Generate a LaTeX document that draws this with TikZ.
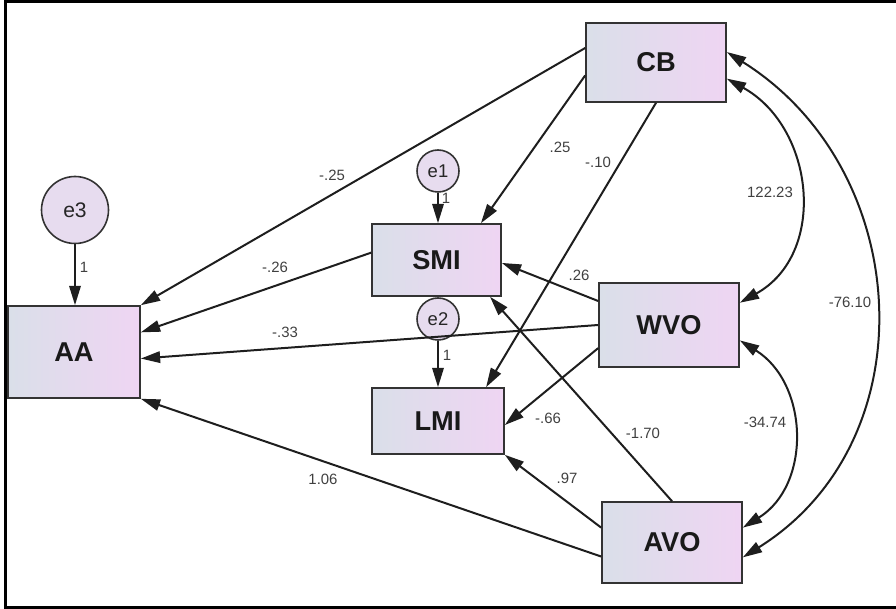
\documentclass[tikz,border=0pt]{standalone}
\usepackage{fontspec}
\setmainfont{Liberation Sans}
\usetikzlibrary{arrows.meta,calc}

\definecolor{boxleft}{HTML}{DADFE9}
\definecolor{boxright}{HTML}{EFD5F3}
\definecolor{errfill}{HTML}{E7DCEF}
\definecolor{edge}{HTML}{1E1E1E}

\def\px{0.2mm}

\tikzset{
    var/.style={draw=black!80, line width=1.6*\px, left color=boxleft, right color=boxright,
        font=\fontsize{15.5}{17}\selectfont\bfseries, text=black!90},
    err/.style={circle, draw=black!80, line width=1.6*\px, fill=errfill, inner sep=0pt,
        font=\fontsize{10.5}{12}\selectfont, text=black!85},
    path/.style={draw=edge, line width=2*\px, -{Triangle[length=11pt,width=6.5pt]}},
    cov/.style={draw=edge, line width=2*\px, {Triangle[length=11pt,width=6.5pt]}-{Triangle[length=11pt,width=6.5pt]}},
    lbl/.style={font=\fontsize{8.5}{10}\selectfont, text=black!75, inner sep=1pt}
}

\begin{document}
\begin{tikzpicture}[x=0.2mm, y=-0.2mm]

    \useasboundingbox (0,0) rectangle (896,609);

    % Frame
    \draw[line width=3*\px] (896,1.5) -- (5.5,1.5) -- (5.5,607) -- (896,607);

    % Observed variables
    \node[var, minimum width=132*\px, minimum height=92*\px] (AA)  at (74,352)    {AA};
    \node[var, minimum width=129*\px, minimum height=72*\px] (SMI) at (436.5,260) {SMI};
    \node[var, minimum width=132*\px, minimum height=66*\px] (LMI) at (438,421)   {LMI};
    \node[var, minimum width=140*\px, minimum height=79*\px] (CB)  at (656,62.5)  {CB};
    \node[var, minimum width=140*\px, minimum height=84*\px] (WVO) at (669,325)   {WVO};
    \node[var, minimum width=140*\px, minimum height=81*\px] (AVO) at (672,542.5) {AVO};

    % Error terms
    \node[err, minimum size=67*\px, font=\fontsize{12}{13}\selectfont] (e3) at (75,210) {e3};
    \node[err, minimum size=42*\px] (e1) at (438,171) {e1};
    \node[err, minimum size=42*\px] (e2) at (438,319) {e2};

    \draw[path] (e3.south) -- (e3.south |- AA.north);
    \draw[path] (e1.south) -- (e1.south |- SMI.north);
    \draw[path] (e2.south) -- (e2.south |- LMI.north);
    \node[lbl] (w3) at (84,267) {1};
    \node[lbl] (w1) at (446,198) {1};
    \node[lbl] (w2) at (447,355) {1};

    % Paths into AA
    \draw[path] ($(CB.north west)!.32!(CB.south west)$) -- (AA.north east);
    \draw[path] ($(SMI.north west)!.40!(SMI.south west)$) -- ($(AA.north east)!.29!(AA.south east)$);
    \draw[path] (WVO.west) -- ($(AA.north east)!.57!(AA.south east)$);
    \draw[path] ($(AVO.north west)!.67!(AVO.south west)$) -- (AA.south east);

    % Paths into SMI and LMI
    \draw[path] ($(CB.north west)!.66!(CB.south west)$) -- ($(SMI.north west)!.84!(SMI.north east)$);
    \draw[path] (CB.south) -- ($(LMI.north west)!.86!(LMI.north east)$);
    \draw[path] ($(WVO.north west)!.22!(WVO.south west)$) -- ($(SMI.north east)!.54!(SMI.south east)$);
    \draw[path] ($(WVO.north west)!.77!(WVO.south west)$) -- ($(LMI.north east)!.56!(LMI.south east)$);
    \draw[path] (AVO.north) -- ($(SMI.south west)!.91!(SMI.south east)$);
    \draw[path] ($(AVO.north west)!.32!(AVO.south west)$) -- (LMI.south east);

    % Path coefficients
    \node[lbl] (b-cb-aa)   at (332,175) {-.25};
    \node[lbl] (b-smi-aa)  at (275,267) {-.26};
    \node[lbl] (b-wvo-aa)  at (285,332) {-.33};
    \node[lbl] (b-avo-aa)  at (323,479) {1.06};
    \node[lbl] (b-cb-smi)  at (560,147) {.25};
    \node[lbl] (b-cb-lmi)  at (598,162) {-.10};
    \node[lbl] (b-wvo-smi) at (579,275) {.26};
    \node[lbl] (b-wvo-lmi) at (548,418) {-.66};
    \node[lbl] (b-avo-smi) at (643,433) {-1.70};
    \node[lbl] (b-avo-lmi) at (567,478) {.97};

    % Covariances
    \draw[cov] ($(CB.north east)!.70!(CB.south east)$)
        .. controls +(88,49) and +(88,-49) .. ($(WVO.north east)!.24!(WVO.south east)$);
    \draw[cov] ($(WVO.north east)!.68!(WVO.south east)$)
        .. controls +(69,43) and +(69,-43) .. ($(AVO.north east)!.32!(AVO.south east)$);
    \draw[cov] ($(CB.north east)!.37!(CB.south east)$)
        .. controls +(187,117) and +(187,-117) .. ($(AVO.north east)!.68!(AVO.south east)$);
    \node[lbl] (c-cb-wvo)  at (770,192) {122.23};
    \node[lbl] (c-wvo-avo) at (765,422) {-34.74};
    \node[lbl] (c-cb-avo)  at (850,302) {-76.10};

\end{tikzpicture}
\end{document}
